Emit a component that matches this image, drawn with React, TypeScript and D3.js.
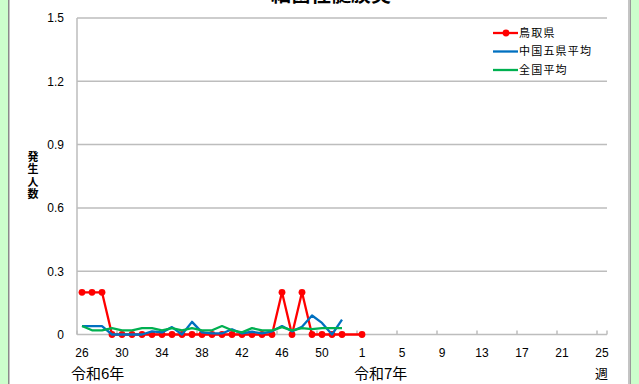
import React from "react";
import * as d3 from "d3";

const weeks: string[] = [
  "26","27","28","29","30","31","32","33","34","35","36","37","38","39","40",
  "41","42","43","44","45","46","47","48","49","50","51","52","53",
  "1","2","3","4","5","6","7","8","9","10","11","12","13","14","15","16","17",
  "18","19","20","21","22","23","24","25",
];

const tottori: (number | null)[] = [
  0.2,0.2,0.2,0,0,0,0,0,0,0,0,0,0,0,0,0,0,0,0,0,0.2,0,0.2,0,0,0,0,null,
  0,
];
const chugoku: (number | null)[] = [
  0.04,0.04,0.04,0,0,0,0,0.015,0.01,0.035,0,0.06,0.01,0.005,0.005,0.025,0.005,
  0.013,0.005,0.015,0.04,0.015,0.037,0.09,0.055,0,0.07,
];
const national: (number | null)[] = [
  0.04,0.02,0.02,0.03,0.02,0.02,0.03,0.03,0.02,0.03,0.02,0.03,0.02,0.02,0.04,
  0.02,0.01,0.03,0.02,0.02,0.035,0.02,0.03,0.025,0.03,0.03,0.03,
];
const yTicks: number[] = [0, 0.3, 0.6, 0.9, 1.2, 1.5];
const seriesNames: string[] = ["鳥取県", "中国五県平均", "全国平均"];
const title = "細菌性髄膜炎";

const W = 639;
const H = 384;
const left = 77;
const right = 607;
const top = 18;
const bottom = 334.5;

const CJK = "'Noto Sans CJK JP', sans-serif";
const NUM = "'Liberation Sans', Arial, sans-serif";

export default function App() {
  const x = d3.scaleBand<string>().domain(weeks).range([left, right]).padding(0);
  const y = d3.scaleLinear().domain([0, 1.5]).range([bottom, top]);
  const cx = (i: number) => (x(weeks[i]) as number) + x.bandwidth() / 2;

  const mk = (arr: (number | null)[]) => {
    const pts = arr
      .map((v, i) => ({ v, i }))
      .filter((p) => p.v !== null) as { v: number; i: number }[];
    const line = d3
      .line<{ v: number; i: number }>()
      .x((p) => cx(p.i))
      .y((p) => y(p.v));
    return { pts, d: line(pts) || "" };
  };

  const red = mk(tottori);
  const blue = mk(chugoku);
  const green = mk(national);

  const colors = ["#FF0000", "#0070C0", "#00B050"];
  const tickIdx = weeks.map((_, i) => i).filter((i) => i % 4 === 0);

  return (
    <div style={{ position: "absolute", left: 0, top: 0 }}>
      <svg width={W} height={H} style={{ display: "block" }}>
        <rect x={0} y={0} width={W} height={H} fill="#ffffff" />
        <rect x={0} y={0} width={8} height={H} fill="#CCFFCC" />
        <rect x={8} y={0} width={1.5} height={H} fill="#8a8a8a" />
        <rect x={631} y={0} width={8} height={H} fill="#CCFFCC" />
        <rect x={628} y={0} width={2} height={H} fill="#c4c4c4" />
        <rect x={630} y={0} width={1} height={H} fill="#9a9a9a" />

        <text
          x={331}
          y={2}
          textAnchor="middle"
          fontFamily={CJK}
          fontWeight="bold"
          fontSize={20}
          fill="#000"
        >
          {title}
        </text>

        {yTicks.map((t) => (
          <g key={t}>
            {t > 0 && (
              <line
                x1={left}
                x2={right}
                y1={y(t)}
                y2={y(t)}
                stroke="#bdbdbd"
                strokeWidth={1.5}
              />
            )}
            <text
              x={64}
              y={y(t)}
              dy="0.36em"
              textAnchor="end"
              fontFamily={NUM}
              fontSize={12}
              fill="#000"
            >
              {t === 0 ? "0" : t.toFixed(1)}
            </text>
          </g>
        ))}
        <line x1={left} x2={left} y1={top} y2={bottom} stroke="#bdbdbd" strokeWidth={1.5} />
        <line x1={left} x2={right} y1={bottom} y2={bottom} stroke="#bdbdbd" strokeWidth={1.5} />
        {tickIdx.map((i) => (
          <line
            key={"t" + i}
            x1={x(weeks[i]) as number}
            x2={x(weeks[i]) as number}
            y1={bottom}
            y2={bottom - 4}
            stroke="#bdbdbd"
            strokeWidth={1.5}
          />
        ))}
        <line x1={right} x2={right} y1={bottom} y2={bottom - 4} stroke="#bdbdbd" strokeWidth={1.5} />
        {tickIdx.map((i) => (
          <text
            key={"l" + i}
            x={cx(i)}
            y={357}
            textAnchor="middle"
            fontFamily={NUM}
            fontSize={12}
            fill="#000"
          >
            {weeks[i]}
          </text>
        ))}

        <g fontFamily={CJK} fill="#000">
          <text x={71} y={379} fontSize={15}>令和6年</text>
          <text x={354} y={379} fontSize={15}>令和7年</text>
          <text x={601.5} y={378} fontSize={13} textAnchor="middle">週</text>
        </g>

        <text
          x={33}
          y={151}
          fontFamily={CJK}
          fontWeight="bold"
          fontSize={11}
          letterSpacing={1.5}
          fill="#000"
          style={{ writingMode: "vertical-rl", textOrientation: "upright" }}
        >
          発生人数
        </text>

        <path d={red.d} fill="none" stroke={colors[0]} strokeWidth={2.3} strokeLinejoin="round" />
        {red.pts.map((p) => (
          <circle key={"r" + p.i} cx={cx(p.i)} cy={y(p.v)} r={3.4} fill={colors[0]} />
        ))}
        <path d={blue.d} fill="none" stroke={colors[1]} strokeWidth={2.3} strokeLinejoin="round" />
        <path d={green.d} fill="none" stroke={colors[2]} strokeWidth={2.3} strokeLinejoin="round" />

        {seriesNames.map((n, i) => {
          const ly = [33, 51.5, 70][i];
          return (
            <g key={n}>
              <line x1={493} x2={518} y1={ly} y2={ly} stroke={colors[i]} strokeWidth={2.3} />
              {i === 0 && <circle cx={506} cy={ly} r={3.4} fill={colors[0]} />}
              <text
                x={519}
                y={ly}
                dy="0.36em"
                fontFamily={CJK}
                fontSize={11}
                letterSpacing={1.2}
                fill="#000"
              >
                {n}
              </text>
            </g>
          );
        })}
      </svg>
    </div>
  );
}
